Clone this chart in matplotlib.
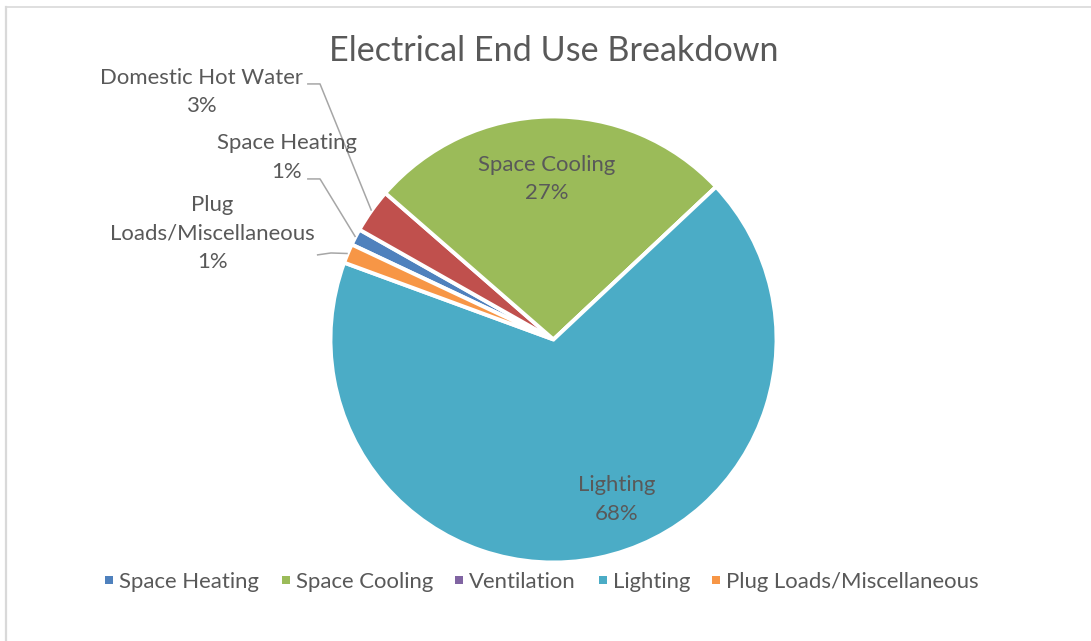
import numpy as np
import matplotlib
matplotlib.use("Agg")
import matplotlib.pyplot as plt
from matplotlib.lines import Line2D

plt.rcParams['font.family'] = ['Lato', 'DejaVu Sans']

# End-use shares (percent), in series order
categories = ["Space Heating", "Domestic Hot Water", "Space Cooling",
              "Ventilation", "Lighting", "Plug Loads/Miscellaneous"]
values = [1.2, 3.2, 26.6, 0.0, 67.6, 1.4]
colors = ["#4F81BD", "#C0504D", "#9BBB59", "#8064A2", "#4BACC6", "#F79646"]
legend_items = ["Space Heating", "Space Cooling", "Ventilation",
                "Lighting", "Plug Loads/Miscellaneous"]

TEXT = "#595959"
W, H = 1091, 641
fig = plt.figure(figsize=(W / 100, H / 100), dpi=100)

# chart-area border (left and top edges)
fig.add_artist(Line2D([5.5 / W, 5.5 / W], [0, 1 - 6.5 / H], transform=fig.transFigure,
                      color="#D9D9D9", lw=1.6))
fig.add_artist(Line2D([5.5 / W, 1], [1 - 6.5 / H, 1 - 6.5 / H], transform=fig.transFigure,
                      color="#D9D9D9", lw=1.2))

cx, cy, R = 553.5, 339.5, 223
ax = fig.add_axes([(cx - R) / W, (H - cy - R) / H, 2 * R / W, 2 * R / H])

start = 90 - 295.2
wedges, _ = ax.pie(values, colors=colors, startangle=start, counterclock=False,
                   radius=1.0, wedgeprops=dict(edgecolor="white", linewidth=2.8))
ax.set_xlim(-1, 1)
ax.set_ylim(-1, 1)
ax.set_aspect("equal")
ax.axis("off")

total = sum(values)
pct = [f"{v / total * 100:.0f}%" for v in values]

def mid(i):
    w = wedges[i]
    a = np.deg2rad((w.theta1 + w.theta2) / 2)
    return np.cos(a), np.sin(a)

fs = 15.9
ls = 1.55
# inside labels
ax.text(-0.029, 0.72, f"{categories[2]}\n{pct[2]}", ha="center", va="center",
        fontsize=fs, color=TEXT, linespacing=ls)
ax.text(0.285, -0.717, f"{categories[4]}\n{pct[4]}", ha="center", va="center",
        fontsize=fs, color=TEXT, linespacing=ls)

# outside labels with leader lines
outside = [
    (1, (-1.577, 1.110), [(-1.047, 1.146), (-1.105, 1.146)], "Domestic Hot Water"),
    (0, (-1.196, 0.816), [(-1.047, 0.720), (-1.105, 0.720)], "Space Heating"),
    (5, (-1.531, 0.475), [(-0.998, 0.388), (-1.061, 0.379)], "Plug\nLoads/Miscellaneous"),
]
for i, tpos, pts, name in outside:
    mx, my = mid(i)
    xs = [mx] + [p[0] for p in pts]
    ys = [my] + [p[1] for p in pts]
    ax.plot(xs, ys, color="#A6A6A6", lw=1.1, clip_on=False, solid_capstyle="butt")
    ax.text(tpos[0], tpos[1], f"{name}\n{pct[i]}", ha="center", va="center",
            fontsize=fs, color=TEXT, linespacing=ls, clip_on=False)

fig.text(cx / W, 1 - 51 / H, "Electrical End Use Breakdown", ha="center", va="center",
         fontsize=24.6, color=TEXT)

handles = [Line2D([], [], marker="s", ls="none", markersize=6,
                  markerfacecolor=colors[categories.index(n)], markeredgewidth=0)
           for n in legend_items]
fig.legend(handles, legend_items, loc="center", bbox_to_anchor=(542 / W, 1 - 582 / H),
           ncol=5, frameon=False, fontsize=fs, labelcolor=TEXT,
           handlelength=0.4, handletextpad=0.25, columnspacing=1.0)

fig.savefig("out.png", dpi=100, facecolor="white")
